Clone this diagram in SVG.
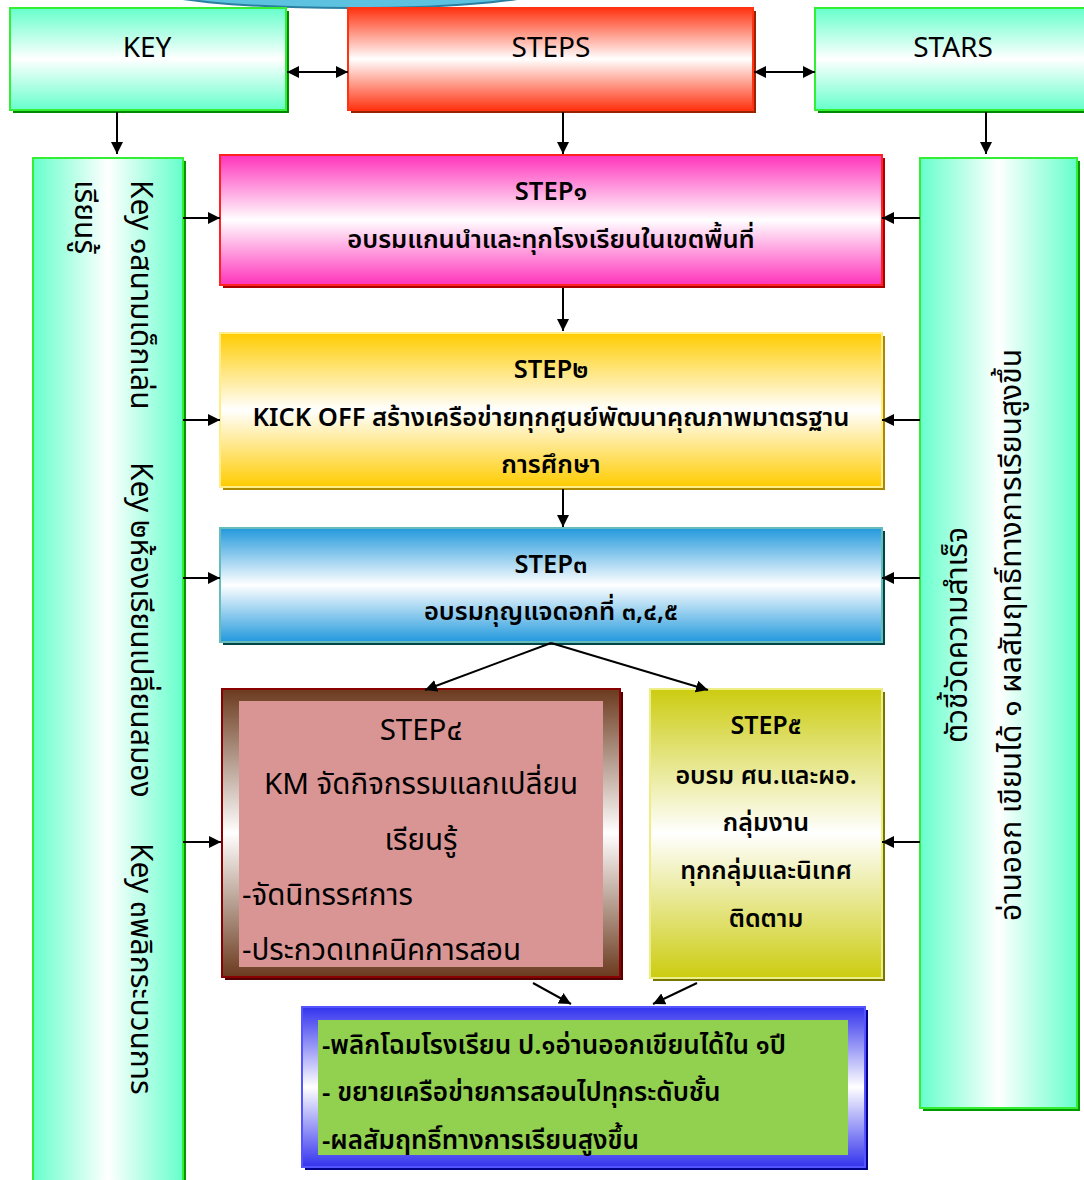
<svg xmlns="http://www.w3.org/2000/svg" width="1084" height="1180" viewBox="0 0 1084 1180">
<defs>
<linearGradient id="gGreenV" x1="0" y1="0" x2="0" y2="1"><stop offset="0" stop-color="#66ffcc"/><stop offset="0.5" stop-color="#ffffff"/><stop offset="1" stop-color="#66ffcc"/></linearGradient>
<linearGradient id="gGreenH" x1="0" y1="0" x2="1" y2="0"><stop offset="0" stop-color="#66ffcc"/><stop offset="0.5" stop-color="#ffffff"/><stop offset="1" stop-color="#66ffcc"/></linearGradient>
<linearGradient id="gRed" x1="0" y1="0" x2="0" y2="1"><stop offset="0" stop-color="#ff3311"/><stop offset="0.5" stop-color="#ffffff"/><stop offset="1" stop-color="#ff3311"/></linearGradient>
<linearGradient id="gPink" x1="0" y1="0" x2="0" y2="1"><stop offset="0" stop-color="#ff33bb"/><stop offset="0.5" stop-color="#ffffff"/><stop offset="1" stop-color="#ff33bb"/></linearGradient>
<linearGradient id="gYellow" x1="0" y1="0" x2="0" y2="1"><stop offset="0" stop-color="#ffcc00"/><stop offset="0.5" stop-color="#ffffff"/><stop offset="1" stop-color="#ffcc00"/></linearGradient>
<linearGradient id="gBlue" x1="0" y1="0" x2="0" y2="1"><stop offset="0" stop-color="#2299dd"/><stop offset="0.5" stop-color="#ffffff"/><stop offset="1" stop-color="#2299dd"/></linearGradient>
<linearGradient id="gOlive" x1="0" y1="0" x2="0" y2="1"><stop offset="0" stop-color="#cccc11"/><stop offset="0.5" stop-color="#ffffff"/><stop offset="1" stop-color="#cccc11"/></linearGradient>
<linearGradient id="gBrown" x1="0" y1="0" x2="0" y2="1"><stop offset="0" stop-color="#6b3a1e"/><stop offset="0.5" stop-color="#ffffff"/><stop offset="1" stop-color="#6b3a1e"/></linearGradient>
<linearGradient id="gNavy" x1="0" y1="0" x2="0" y2="1"><stop offset="0" stop-color="#3333ee"/><stop offset="0.5" stop-color="#ffffff"/><stop offset="1" stop-color="#3333ee"/></linearGradient>
<marker id="arr" viewBox="0 0 10 10" refX="10" refY="5" markerWidth="6" markerHeight="6" orient="auto-start-reverse" markerUnits="strokeWidth"><path d="M0,0 L10,5 L0,10 z" fill="#000"/></marker>
</defs>
<style>
text{font-family:"Noto Sans Thai","Noto Sans","DejaVu Sans",sans-serif;fill:#000}
.c{text-anchor:middle}
.t1{font-size:28px}
.t2{font-size:25.5px;font-weight:600}
.t4{font-size:29.5px}
.t5{font-size:25px;font-weight:600}
.tb{font-size:26px;font-weight:600}
.side{font-size:30px}
.conn line{stroke:#000;stroke-width:2;marker-end:url(#arr)}
.conn line.both{marker-start:url(#arr)}
</style>
<ellipse cx="350" cy="-12" rx="200" ry="20" fill="#5cc2e0" stroke="#2a7fa0" stroke-width="2"/>

<g id="key">
<rect x="13" y="11" width="276" height="102" fill="#008800"/>
<rect x="10" y="8" width="276" height="102" fill="url(#gGreenV)" stroke="#33ee33" stroke-width="2"/>
<text class="t1 c" x="147" y="57">KEY</text>
</g>
<g id="steps">
<rect x="351" y="11" width="405" height="102" fill="#992200"/>
<rect x="348" y="8" width="405" height="102" fill="url(#gRed)" stroke="#ff3311" stroke-width="2"/>
<text class="t1 c" x="551" y="57">STEPS</text>
</g>
<g id="stars">
<rect x="818" y="11" width="280" height="102" fill="#008800"/>
<rect x="815" y="8" width="280" height="102" fill="url(#gGreenV)" stroke="#33ee33" stroke-width="2"/>
<text class="t1 c" x="953" y="57">STARS</text>
</g>

<g id="keycol">
<rect x="36" y="161" width="150" height="1030" fill="#009900"/>
<rect x="33" y="158" width="150" height="1030" fill="url(#gGreenH)" stroke="#33ee33" stroke-width="2"/>
<text class="side" transform="translate(131,180) rotate(90)"><tspan x="0" y="0">Key ๑สนามเด็กเล่น</tspan><tspan x="282" y="0">Key ๒ห้องเรียนเปลี่ยนสมอง</tspan><tspan x="663" y="0">Key ๓พลิกระบวนการ</tspan><tspan x="0" y="56">เรียนรู้</tspan></text>
</g>

<g id="starcol">
<rect x="923" y="161" width="157" height="950" fill="#009900"/>
<rect x="920" y="158" width="157" height="950" fill="url(#gGreenH)" stroke="#33ee33" stroke-width="2"/>
<text class="side c" transform="translate(967,635) rotate(-90)"><tspan x="0" y="0">ตัวชี้วัดความสำเร็จ</tspan><tspan x="0" y="54">อ่านออก เขียนได้ ๑ ผลสัมฤทธิ์ทางการเรียนสูงขึ้น</tspan></text>
</g>

<g id="step1">
<rect x="223" y="158" width="662" height="130" fill="#aa0000"/>
<rect x="220" y="155" width="662" height="130" fill="url(#gPink)" stroke="#ff2222" stroke-width="2"/>
<text class="t2 c" x="551" y="200">STEP๑</text>
<text class="t2 c" x="551" y="248">อบรมแกนนำและทุกโรงเรียนในเขตพื้นที่</text>
</g>
<g id="step2">
<rect x="223" y="336" width="662" height="154" fill="#aa8800"/>
<rect x="220" y="333" width="662" height="154" fill="url(#gYellow)" stroke="#ffee88" stroke-width="2"/>
<text class="t2 c" x="551" y="378">STEP๒</text>
<text class="t2 c" x="551" y="426">KICK OFF สร้างเครือข่ายทุกศูนย์พัฒนาคุณภาพมาตรฐาน</text>
<text class="t2 c" x="551" y="473">การศึกษา</text>
</g>
<g id="step3">
<rect x="223" y="531" width="662" height="114" fill="#004444"/>
<rect x="220" y="528" width="662" height="114" fill="url(#gBlue)" stroke="#66bbbb" stroke-width="2"/>
<text class="t2 c" x="551" y="573">STEP๓</text>
<text class="t2 c" x="551" y="620">อบรมกุญแจดอกที่ ๓,๔,๕</text>
</g>
<g id="step4">
<rect x="225" y="692" width="398" height="288" fill="#550000"/>
<rect x="222" y="689" width="398" height="288" fill="url(#gBrown)" stroke="#880000" stroke-width="2"/>
<rect x="239" y="701" width="364" height="266" fill="#d99594"/>
<text class="t4 c" x="421" y="740">STEP๔</text>
<text class="t4 c" x="421" y="794">KM จัดกิจกรรมแลกเปลี่ยน</text>
<text class="t4 c" x="421" y="850">เรียนรู้</text>
<text class="t4" x="242" y="905">-จัดนิทรรศการ</text>
<text class="t4" x="242" y="960">-ประกวดเทคนิคการสอน</text>
</g>
<g id="step5">
<rect x="653" y="692" width="232" height="289" fill="#777700"/>
<rect x="650" y="689" width="232" height="289" fill="url(#gOlive)" stroke="#eeee88" stroke-width="2"/>
<text class="t5 c" x="766" y="734">STEP๕</text>
<text class="t5 c" x="766" y="784">อบรม ศน.และผอ.</text>
<text class="t5 c" x="766" y="831">กลุ่มงาน</text>
<text class="t5 c" x="766" y="879">ทุกกลุ่มและนิเทศ</text>
<text class="t5 c" x="766" y="927">ติดตาม</text>
</g>
<g id="result">
<rect x="305" y="1010" width="563" height="160" fill="#000088"/>
<rect x="302" y="1007" width="563" height="160" fill="url(#gNavy)" stroke="#5555ff" stroke-width="2"/>
<rect x="318" y="1020" width="530" height="135" fill="#92d050"/>
<text class="tb" x="322" y="1054">-พลิกโฉมโรงเรียน ป.๑อ่านออกเขียนได้ใน ๑ปี</text>
<text class="tb" x="322" y="1101">- ขยายเครือข่ายการสอนไปทุกระดับชั้น</text>
<text class="tb" x="322" y="1149">-ผลสัมฤทธิ์ทางการเรียนสูงขึ้น</text>
</g>

<g id="connectors" class="conn">
<line class="both" x1="287" y1="72" x2="348" y2="72"/>
<line class="both" x1="754" y1="72" x2="815" y2="72"/>
<line x1="117" y1="112" x2="117" y2="154"/>
<line x1="563" y1="112" x2="563" y2="154"/>
<line x1="986" y1="112" x2="986" y2="154"/>
<line x1="563" y1="288" x2="563" y2="331"/>
<line x1="563" y1="489" x2="563" y2="527"/>
<line x1="551" y1="643" x2="425" y2="690"/>
<line x1="551" y1="643" x2="708" y2="690"/>
<line x1="533" y1="983" x2="571" y2="1004"/>
<line x1="697" y1="983" x2="653" y2="1004"/>
<line x1="183" y1="218" x2="220" y2="218"/>
<line x1="183" y1="420" x2="220" y2="420"/>
<line x1="183" y1="578" x2="220" y2="578"/>
<line x1="183" y1="842" x2="221" y2="842"/>
<line x1="920" y1="218" x2="882" y2="218"/>
<line x1="920" y1="420" x2="882" y2="420"/>
<line x1="920" y1="578" x2="882" y2="578"/>
<line x1="920" y1="842" x2="882" y2="842"/>
</g>
</svg>
